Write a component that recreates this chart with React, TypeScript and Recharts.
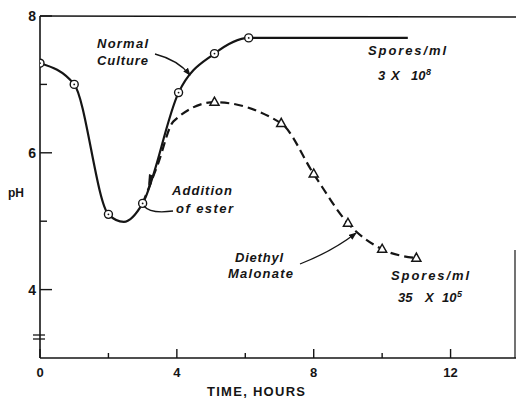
import React from 'react'
import { LineChart, Line, XAxis, YAxis } from 'recharts'

const normalTime = [0, 1, 2, 2.45, 3, 4.05, 5.1, 6.1, 10.75]
const normalPh = [7.31, 7.0, 5.1, 4.99, 5.26, 6.88, 7.45, 7.68, 7.68]
const normalSampled = [true, true, true, false, true, true, true, true, false]

// with diethyl malonate added at 3 h
const malonateTime = [3, 3.45, 3.9, 5.1, 7.05, 8, 9, 10, 11]
const malonatePh = [5.26, 5.84, 6.46, 6.74, 6.43, 5.69, 4.97, 4.59, 4.46]
const malonateSampled = [false, false, false, true, true, true, true, true, true]

const xTicks = [0, 2, 4, 6, 8, 10, 12]
const xLabels = [0, 4, 8, 12]
const yTicks = [4, 5, 6, 7, 8]
const yLabels = [4, 6, 8]

const normalData = normalTime.map((t, i) => ({ t, ph: normalPh[i], mark: normalSampled[i] }))
const malonateData = malonateTime.map((t, i) => ({ t, ph: malonatePh[i], mark: malonateSampled[i] }))

const INK = '#151515'
const TICK_FONT = '"Liberation Sans", Arial, sans-serif'

function XTick(props: any) {
  const { x, y, payload } = props
  const major = xLabels.includes(payload.value)
  return (
    <g>
      <line x1={x} x2={x} y1={y} y2={y - (major ? 9 : 5)} stroke={INK} strokeWidth={1.4} />
      {major && (
        <text x={x} y={y + 19} textAnchor="middle" fontFamily={TICK_FONT} fontWeight="bold" fontSize={13} fill={INK}>
          {payload.value}
        </text>
      )}
    </g>
  )
}

function YTick(props: any) {
  const { x, y, payload } = props
  const major = yLabels.includes(payload.value)
  return (
    <g>
      <line x1={x} x2={x + (major ? 12 : 7)} y1={y} y2={y} stroke={INK} strokeWidth={1.4} />
      {major && (
        <text x={x - 4} y={y + 5} textAnchor="end" fontFamily={TICK_FONT} fontWeight="bold" fontSize={14} fill={INK}>
          {payload.value}
        </text>
      )}
    </g>
  )
}

function CircleDot(props: any) {
  const { cx, cy, payload, index } = props
  if (!payload.mark) return <g key={`c-${index}`} />
  return (
    <g key={`c-${index}`}>
      <circle cx={cx} cy={cy} r={4} fill="#fff" stroke={INK} strokeWidth={1.4} />
      <circle cx={cx} cy={cy} r={0.9} fill={INK} />
    </g>
  )
}

function TriangleDot(props: any) {
  const { cx, cy, payload, index } = props
  if (!payload.mark) return <g key={`t-${index}`} />
  return (
    <polygon
      key={`t-${index}`}
      points={`${cx},${cy - 5} ${cx - 4.5},${cy + 3} ${cx + 4.5},${cy + 3}`}
      fill="#fff"
      stroke={INK}
      strokeWidth={1.5}
      strokeLinejoin="miter"
    />
  )
}

const noteStyle: React.CSSProperties = {
  fontFamily: TICK_FONT,
  fontStyle: 'italic',
  fontWeight: 'bold',
  fontSize: 13,
  fill: INK,
}

function Notes() {
  return (
    <svg width={516} height={400} style={{ position: 'absolute', left: 0, top: 0, pointerEvents: 'none' }}>
      <defs>
        <marker id="head" markerWidth="8" markerHeight="6" refX="7" refY="3" orient="auto" markerUnits="userSpaceOnUse">
          <path d="M0,0 L8,3 L0,6 Z" fill={INK} />
        </marker>
      </defs>
      {/* frame bits and axis break */}
      <line x1={40} y1={16} x2={516} y2={17} stroke={INK} strokeWidth={1.4} />
      <line x1={515} y1={250} x2={515} y2={358} stroke={INK} strokeWidth={1.2} />
      <line x1={33} y1={335} x2={45} y2={335} stroke={INK} strokeWidth={1.3} />
      <line x1={33} y1={339} x2={45} y2={339} stroke={INK} strokeWidth={1.3} />

      <text x={8} y={197} fontFamily={TICK_FONT} fontWeight="bold" fontSize={12} fill={INK}>pH</text>
      <text x={207} y={396} fontFamily={TICK_FONT} fontWeight="bold" fontSize={13} fill={INK} textLength={98}>
        TIME, HOURS
      </text>

      <text x={97} y={48} style={noteStyle} textLength={51}>Normal</text>
      <text x={97} y={65} style={noteStyle} textLength={51}>Culture</text>
      <path d="M155,54 Q178,60 190,75" fill="none" stroke={INK} strokeWidth={1.3} markerEnd="url(#head)" />

      <text x={172} y={195} style={noteStyle} textLength={60}>Addition</text>
      <text x={176} y={213} style={noteStyle} textLength={57}>of ester</text>
      <path d="M144,206 Q150,214 173,211" fill="none" stroke={INK} strokeWidth={1.3} />
      <polygon points="148,186 149,174 154,176" fill={INK} />

      <text x={235} y={262} style={noteStyle} textLength={48}>Diethyl</text>
      <text x={228} y={278} style={noteStyle} textLength={65}>Malonate</text>
      <path d="M300,264 Q333,251 356,233" fill="none" stroke={INK} strokeWidth={1.3} markerEnd="url(#head)" />

      <text x={368} y={55} style={noteStyle} textLength={78}>Spores/ml</text>
      <text y={80} style={noteStyle}>
        <tspan x={378}>3</tspan>
        <tspan x={391}>X</tspan>
        <tspan x={411}>10</tspan>
        <tspan x={426} dy={-5} fontSize={9}>8</tspan>
      </text>
      <text x={391} y={280} style={noteStyle} textLength={78}>Spores/ml</text>
      <text y={302} style={noteStyle}>
        <tspan x={398}>35</tspan>
        <tspan x={425}>X</tspan>
        <tspan x={442}>10</tspan>
        <tspan x={457} dy={-5} fontSize={9}>5</tspan>
      </text>
    </svg>
  )
}

export default function App() {
  return (
    <div style={{ position: 'absolute', left: 0, top: 0, width: 516, height: 400, overflow: 'hidden', background: '#fff' }}>
      <LineChart width={520} height={400} margin={{ top: 16, right: 1, bottom: 0, left: 0 }}>
        <XAxis
          type="number"
          dataKey="t"
          domain={[0, 14]}
          ticks={xTicks}
          interval={0}
          height={42}
          tickSize={0}
          tickMargin={0}
          tickLine={false}
          axisLine={{ stroke: INK, strokeWidth: 1.6 }}
          tick={XTick}
          allowDataOverflow
        />
        <YAxis
          type="number"
          dataKey="ph"
          domain={[3, 8]}
          ticks={yTicks}
          interval={0}
          width={40}
          tickSize={0}
          tickMargin={0}
          tickLine={false}
          axisLine={{ stroke: INK, strokeWidth: 1.6 }}
          tick={YTick}
          allowDataOverflow
        />
        <Line
          data={malonateData}
          dataKey="ph"
          type="monotone"
          stroke={INK}
          strokeWidth={2.2}
          strokeDasharray="9 5"
          dot={TriangleDot}
          activeDot={false}
          isAnimationActive={false}
        />
        <Line
          data={normalData}
          dataKey="ph"
          type="monotone"
          stroke={INK}
          strokeWidth={2.2}
          dot={CircleDot}
          activeDot={false}
          isAnimationActive={false}
        />
      </LineChart>
      <Notes />
    </div>
  )
}
